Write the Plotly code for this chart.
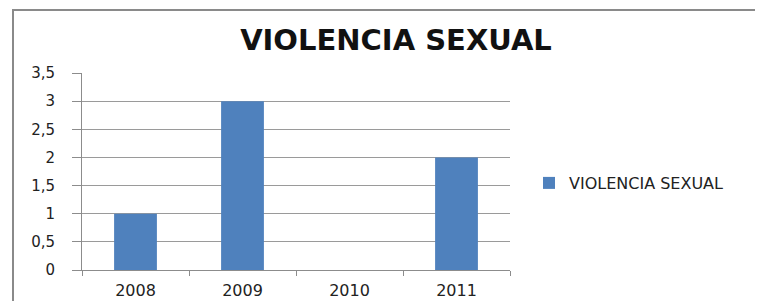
import plotly.graph_objects as go

categories = ["2008", "2009", "2010", "2011"]
values = [1, 3, 0, 2]
series_name = "VIOLENCIA SEXUAL"
title_text = "VIOLENCIA SEXUAL"
y_ticks = [0, 0.5, 1, 1.5, 2, 2.5, 3, 3.5]

W, H = 763, 301
OFF = 8  # page body margin
L, R, T, B = 82 - OFF, 510 - OFF, 73 - OFF, 270 - OFF  # plot area in px


def px_x(p):
    return (p - OFF - L) / (R - L)


def px_y(p):
    return (B - (p - OFF)) / (B - T)


FONT = "DejaVu Sans, Verdana, sans-serif"

fig = go.Figure()
fig.add_trace(go.Bar(
    x=categories, y=values, name=series_name,
    marker=dict(color="#4F81BD", line=dict(width=0)),
    width=0.4,
))

fig.update_layout(
    width=W, height=H,
    margin=dict(l=L, r=W - R, t=T, b=H - B, autoexpand=False),
    paper_bgcolor="white", plot_bgcolor="white",
    separators=",.",
    showlegend=True,
    font=dict(family=FONT, color="#222"),
    title=dict(text="<b>" + title_text + "</b>", x=(396 - OFF) / W, xanchor="center",
               y=1 - (40 - OFF) / H, yanchor="middle",
               font=dict(size=29, color="#111", family=FONT)),
    legend=dict(x=px_x(529), y=px_y(183), xanchor="left", yanchor="middle",
                font=dict(size=16, color="#222", family=FONT), itemwidth=30,
                bgcolor="rgba(0,0,0,0)"),
    xaxis=dict(
        showgrid=False, showline=True, linecolor="#8c8c8c", linewidth=1,
        ticks="outside", tickson="boundaries", ticklen=5, tickcolor="#8c8c8c",
        ticklabelstandoff=6,
        tickfont=dict(size=16, color="#222", family=FONT),
        zeroline=False, fixedrange=True,
    ),
    yaxis=dict(
        range=[0, 3.5], tickvals=y_ticks, showgrid=True, gridcolor="#9a9a9a",
        gridwidth=1, showline=True, linecolor="#8c8c8c", linewidth=1,
        ticks="outside", ticklen=9, tickcolor="#8c8c8c",
        ticklabelstandoff=14,
        tickfont=dict(size=15, color="#222", family=FONT), zeroline=False,
        fixedrange=True,
    ),
    shapes=[
        dict(type="rect", xref="paper", yref="paper",
             x0=px_x(13), x1=px_x(780), y0=px_y(330), y1=px_y(10),
             line=dict(color="#8a8a8a", width=2), fillcolor="rgba(0,0,0,0)",
             layer="above"),
    ],
)

fig.write_html("out.html")
